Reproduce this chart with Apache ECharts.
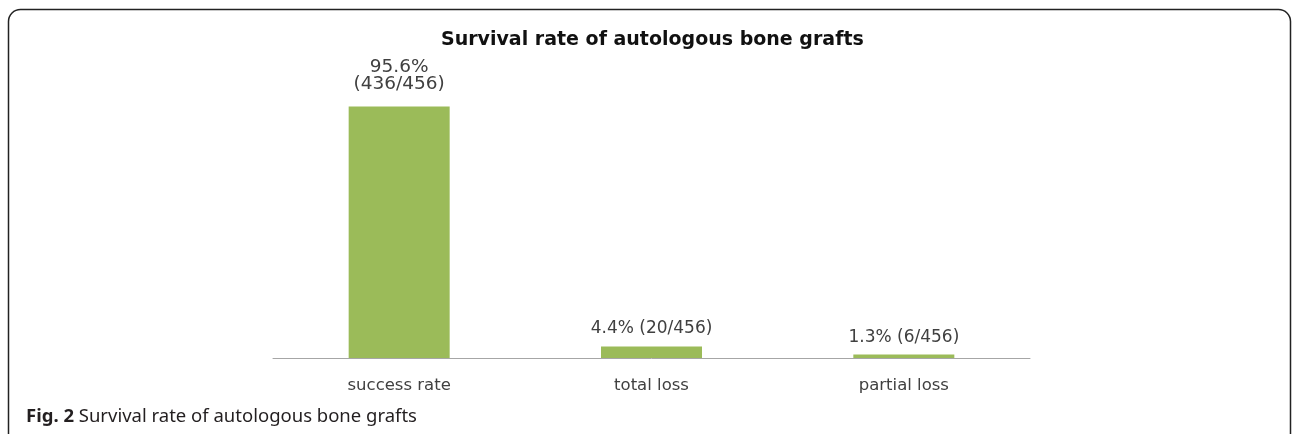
<!DOCTYPE html>
<html>
<head>
<meta charset="utf-8">
<script src="https://cdn.jsdelivr.net/npm/echarts@6/dist/echarts.min.js"></script>
<style>
html,body{margin:0;padding:0;background:#fff;}
#chart{width:1292px;height:434px;}
</style>
</head>
<body>
<div id="chart"></div>
<script>
const chartTitle = 'Survival rate of autologous bone grafts';
const captionText = 'Survival rate of autologous bone grafts';
const captionLabel = 'Fig. 2';
const categories = ['success rate', 'total loss', 'partial loss'];
const values = [95.6, 4.4, 1.3];
const valueLabels = ['95.6%\n(436/456)', '4.4% (20/456)', '1.3% (6/456)'];

const seriesData = values.map(function (v, i) {
  return i === 0 ? {value: v, label: {distance: 14, fontSize: 18.5, lineHeight: 17}} : v;
});

const chart = echarts.init(document.getElementById('chart'), null, {renderer: 'canvas'});
chart.setOption({
  animation: false,
  backgroundColor: '#ffffff',
  title: [
    {
      text: chartTitle,
      left: 436,
      top: 26,
      textStyle: {fontFamily: 'DejaVu Sans', fontWeight: 'bold', fontSize: 19, color: '#111'}
    },
    {
      text: '{b|' + captionLabel + '} ' + captionText,
      left: 21,
      top: 402,
      textStyle: {
        fontFamily: 'Noto Sans', fontWeight: 'normal', fontSize: 18.5, color: '#231f20',
        rich: {b: {fontFamily: 'Noto Sans', fontWeight: 'bold', fontSize: 18.5, color: '#231f20'}}
      }
    }
  ],
  graphic: [{
    type: 'rect',
    shape: {x: 8.5, y: 9.5, width: 1282, height: 470, r: 12},
    style: {fill: 'none', stroke: '#222', lineWidth: 1.5},
    silent: true
  }],
  grid: {left: 273, right: 262, top: 95, bottom: 76},
  xAxis: {
    type: 'category',
    data: categories,
    axisLine: {show: true, lineStyle: {color: '#a6a6a6', width: 1}},
    axisTick: {show: false},
    axisLabel: {fontFamily: 'DejaVu Sans', fontSize: 16.5, color: '#404040', margin: 19}
  },
  yAxis: {
    type: 'value',
    min: 0,
    max: 100,
    show: false
  },
  series: [{
    type: 'bar',
    data: seriesData,
    barWidth: 101,
    itemStyle: {color: '#9bbb59'},
    label: {
      show: true,
      position: 'top',
      distance: 9,
      fontFamily: 'DejaVu Sans',
      fontSize: 17,
      lineHeight: 17,
      color: '#404040',
      formatter: function (p) { return valueLabels[p.dataIndex]; }
    }
  }]
});
</script>
</body>
</html>
